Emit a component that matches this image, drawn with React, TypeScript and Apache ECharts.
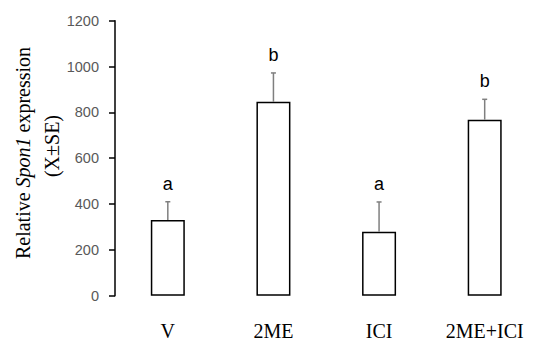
import React, { useEffect, useRef } from "react";
import * as echarts from "echarts";

const categories = ["V", "2ME", "ICI", "2ME+ICI"];
const means = [330, 846, 279, 768];
const errTops = [410, 972, 409, 857];
const letters = ["a", "b", "a", "b"];
const yTicks = { min: 0, max: 1200, interval: 200 };

export default function App() {
  const ref = useRef<HTMLDivElement>(null);
  useEffect(() => {
    if (!ref.current) return;
    const chart = echarts.init(ref.current, null, { renderer: "svg" });
    const serif = "'Liberation Serif', 'Times New Roman', serif";
    const sans = "'Liberation Sans', Arial, sans-serif";
    chart.setOption({
      animation: false,
      backgroundColor: "#fff",
      grid: { left: 115, right: 12.5, top: 20.7, bottom: 57.3 },
      xAxis: {
        type: "category",
        data: categories,
        axisLine: { show: false },
        axisTick: { show: false },
        axisLabel: {
          color: "#000",
          fontFamily: serif,
          fontSize: 20,
          margin: 25,
        },
      },
      yAxis: {
        type: "value",
        min: yTicks.min,
        max: yTicks.max,
        interval: yTicks.interval,
        splitLine: { show: false },
        axisLine: { show: true, lineStyle: { color: "#000", width: 1.5 } },
        axisTick: { show: true, inside: false, length: 6, lineStyle: { color: "#000", width: 1.5 } },
        axisLabel: {
          color: "#595959",
          fontFamily: sans,
          fontSize: 14.5,
          margin: 16,
          formatter: (v: number) => String(v),
        },
      },
      graphic: [
        {
          type: "text",
          x: 23,
          y: 153,
          rotation: Math.PI / 2,
          style: {
            text: "{n|Relative }{i|Spon1}{n| expression}",
            align: "center",
            verticalAlign: "middle",
            fill: "#000",
            rich: {
              n: { fontFamily: serif, fontSize: 20, fill: "#000" },
              i: { fontFamily: serif, fontSize: 20, fontStyle: "italic", fill: "#000" },
            },
          },
        },
        {
          type: "text",
          x: 52,
          y: 146,
          rotation: Math.PI / 2,
          style: {
            text: "(X±SE)",
            align: "center",
            verticalAlign: "middle",
            fill: "#000",
            font: `20px ${serif}`,
          },
        },
      ],
      series: [
        {
          type: "bar",
          data: means,
          barWidth: 34,
          itemStyle: { color: "#fff", borderColor: "#000", borderWidth: 1.5 },
          z: 2,
        },
        {
          type: "custom",
          data: means.map((m, i) => [i, m, errTops[i]]),
          z: 3,
          renderItem: (params: any, api: any) => {
            const i = api.value(0);
            const base = api.coord([i, api.value(1)]);
            const top = api.coord([i, api.value(2)]);
            const style = { stroke: "#7f7f7f", lineWidth: 1.5 };
            return {
              type: "group",
              children: [
                { type: "line", shape: { x1: base[0], y1: base[1], x2: top[0], y2: top[1] }, style },
                { type: "line", shape: { x1: top[0] - 2.5, y1: top[1], x2: top[0] + 2.5, y2: top[1] }, style },
                {
                  type: "text",
                  x: top[0],
                  y: top[1] - 18,
                  style: {
                    text: letters[params.dataIndex],
                    align: "center",
                    verticalAlign: "middle",
                    fill: "#000",
                    font: `18px ${sans}`,
                  },
                },
              ],
            };
          },
        },
      ],
    });
    return () => chart.dispose();
  }, []);
  return <div ref={ref} style={{ width: 550, height: 353, position: "absolute", left: 0, top: 0 }} />;
}
